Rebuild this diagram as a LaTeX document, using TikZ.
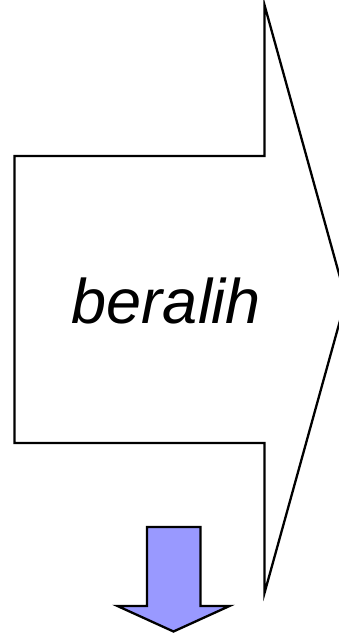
\documentclass[tikz,border=0pt]{standalone}
\usepackage{fontspec}
\setmainfont{Liberation Sans}
\definecolor{arrowblue}{HTML}{9999FF}
\tikzset{
  outline/.style={draw=black, line width=2.3pt, line join=miter},
  bluearrow/.style={draw=black, line width=2.3pt, fill=arrowblue, line join=miter},
  label/.style={font=\fontsize{63}{70}\selectfont\itshape, inner sep=0pt, anchor=base}
}
\begin{document}
\begin{tikzpicture}[x=1pt,y=-1pt]
  \useasboundingbox (0,0) rectangle (339,635);
  \clip (0,0) rectangle (339,635);
  \draw[outline] (14.5,156) -- (264.5,156) -- (264.5,5) -- (346,299)
    -- (264.5,593) -- (264.5,443) -- (14.5,443) -- cycle;
  \node[label] (t) at (166.5,323) {beralih};
  \draw[bluearrow] (147,527) -- (200.5,527) -- (200.5,606) -- (229.5,606)
    -- (173.5,631.5) -- (117.5,606) -- (147,606) -- cycle;
\end{tikzpicture}
\end{document}
